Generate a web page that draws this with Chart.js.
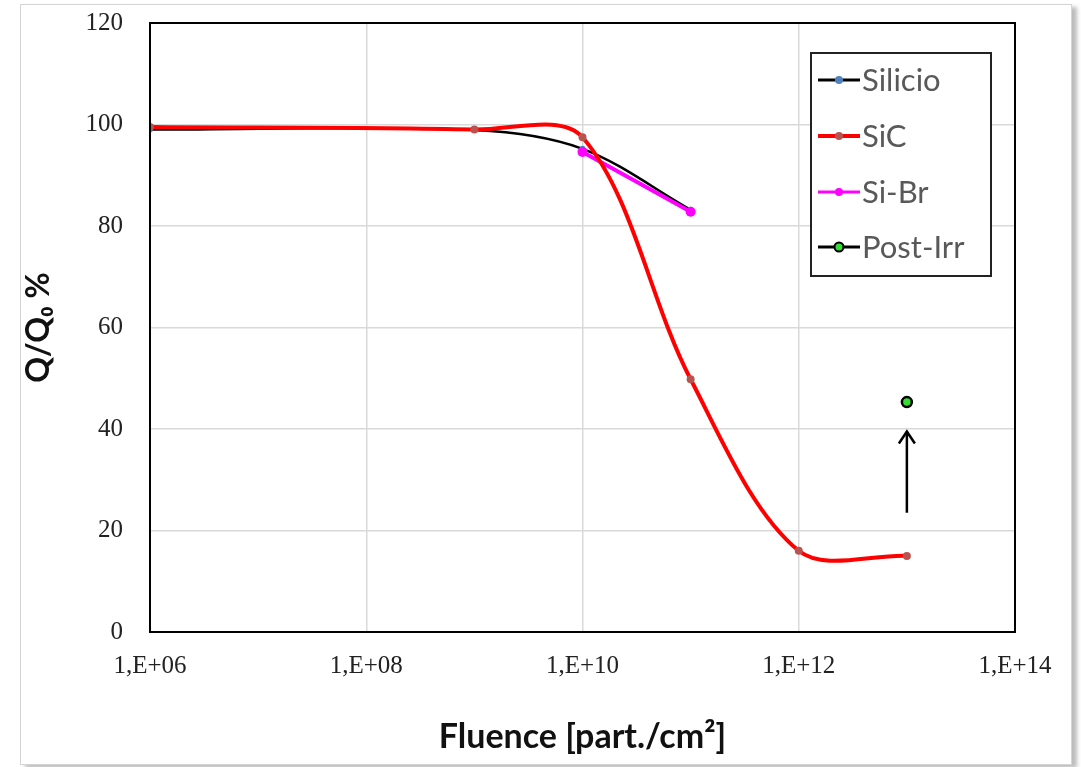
<!DOCTYPE html>
<html>
<head>
<meta charset="utf-8">
<script src="https://cdn.jsdelivr.net/npm/chart.js@4"></script>
<style>
  html, body { margin: 0; padding: 0; background: #fff; }
  #frame {
    position: absolute; left: 20px; top: 4px; width: 1050px; height: 759px;
    border: 1px solid #d4d4d4; box-shadow: 5px 3px 4px #bdbdbd; background: #fff;
  }
  #wrap { position: absolute; left: 0; top: 0; width: 1081px; height: 767px; }
</style>
</head>
<body>
<div id="frame"></div>
<div id="wrap"><canvas id="fluenceChart" width="1081" height="767"></canvas></div>
<script>
// values
const xTicks = [1e6, 1e8, 1e10, 1e12, 1e14];
const xTickLabels = ['1,E+06', '1,E+08', '1,E+10', '1,E+12', '1,E+14'];
const yTicks = [0, 20, 40, 60, 80, 100, 120];

const silicioX = [1e6, 1e9, 1e10, 1e11];
const silicioY = [99.0, 98.9, 95.2, 83.2];

const sicX = [1e6, 1e9, 1e10, 1e11, 1e12, 1e13];
const sicY = [99.5, 99.0, 97.5, 49.8, 16.0, 15.0];

const siBrX = [1e10, 1e11];
const siBrY = [94.6, 82.8];

const postIrrX = [1e13];
const postIrrY = [45.3];

// arrow pointing at the post-irradiation point
const arrowX = 1e13;
const arrowFromY = 23.5;
const arrowToY = 39.5;

function toPoints(xs, ys) {
    return xs.map((x, i) => ({ x: x, y: ys[i] }));
}

const datasets = [
    {
        label: 'Silicio',
        data: toPoints(silicioX, silicioY),
        showLine: true,
        borderColor: '#000000',
        backgroundColor: '#4f81bd',
        borderWidth: 2.5,
        pointRadius: 3,
        pointBorderWidth: 0,
        pointBackgroundColor: '#4f81bd',
        tension: 0.33,
        order: 3
    },
    {
        label: 'SiC',
        data: toPoints(sicX, sicY),
        showLine: true,
        borderColor: '#ff0000',
        backgroundColor: '#c0504d',
        borderWidth: 4,
        pointRadius: 4,
        pointBorderWidth: 0,
        pointBackgroundColor: '#b85450',
        tension: 0.33,
        order: 1
    },
    {
        label: 'Si-Br',
        data: toPoints(siBrX, siBrY),
        showLine: true,
        borderColor: '#ff00ff',
        backgroundColor: '#ff00ff',
        borderWidth: 4,
        pointRadius: 5,
        pointBorderWidth: 0,
        pointBackgroundColor: '#ff00ff',
        tension: 0.33,
        order: 2
    },
    {
        label: 'Post-Irr',
        data: toPoints(postIrrX, postIrrY),
        showLine: false,
        borderColor: '#000000',
        backgroundColor: '#33cc33',
        borderWidth: 2.5,
        pointRadius: 5,
        pointBorderWidth: 2.5,
        pointBorderColor: '#000000',
        pointBackgroundColor: '#33dd33',
        order: 0
    }
];

// black frame around the plot area, the arrow and the boxed legend
const decorations = {
    id: 'decorations',
    afterDatasetsDraw(chart) {
        const ctx = chart.ctx;
        const area = chart.chartArea;
        const xs = chart.scales.x;
        const ys = chart.scales.y;

        ctx.save();
        ctx.strokeStyle = '#000';
        ctx.lineWidth = 2;
        ctx.strokeRect(area.left, area.top, area.right - area.left, area.bottom - area.top);

        // arrow
        const ax = xs.getPixelForValue(arrowX);
        const y0 = ys.getPixelForValue(arrowFromY);
        const y1 = ys.getPixelForValue(arrowToY);
        ctx.lineWidth = 2.5;
        ctx.beginPath();
        ctx.moveTo(ax, y0);
        ctx.lineTo(ax, y1);
        ctx.stroke();
        ctx.beginPath();
        ctx.moveTo(ax - 8, y1 + 12);
        ctx.lineTo(ax, y1);
        ctx.lineTo(ax + 8, y1 + 12);
        ctx.stroke();

        // legend box
        const box = { left: 811, top: 53, width: 180, height: 223 };
        ctx.fillStyle = '#fff';
        ctx.fillRect(box.left, box.top, box.width, box.height);
        ctx.lineWidth = 2;
        ctx.strokeStyle = '#222';
        ctx.strokeRect(box.left, box.top, box.width, box.height);

        const rowY = [80, 136, 192, 247];
        ctx.font = '31px Lato, "Open Sans", sans-serif';
        ctx.textBaseline = 'middle';
        chart.data.datasets.forEach((ds, i) => {
            const y = rowY[i];
            ctx.strokeStyle = ds.borderColor;
            ctx.lineWidth = ds.label === 'SiC' ? 4 : 3;
            ctx.beginPath();
            ctx.moveTo(818, y);
            ctx.lineTo(860, y);
            ctx.stroke();
            ctx.beginPath();
            ctx.arc(839, y, ds.label === 'Post-Irr' ? 4.5 : 4, 0, Math.PI * 2);
            ctx.fillStyle = ds.pointBackgroundColor;
            ctx.fill();
            if (ds.label === 'Post-Irr') {
                ctx.lineWidth = 2;
                ctx.strokeStyle = '#000';
                ctx.stroke();
            }
            ctx.fillStyle = '#595959';
            ctx.fillText(ds.label, 862, y + 1);
        });
        ctx.restore();
    }
};

const ctx = document.getElementById('fluenceChart').getContext('2d');
new Chart(ctx, {
    type: 'scatter',
    data: { datasets: datasets },
    options: {
        responsive: false,
        animation: false,
        layout: { padding: { left: 0, top: 23, right: 66, bottom: 0 } },
        plugins: {
            legend: { display: false },
            tooltip: { enabled: false }
        },
        elements: { line: { cubicInterpolationMode: 'default' } },
        scales: {
            x: {
                type: 'logarithmic',
                min: 1e6,
                max: 1e14,
                afterBuildTicks: (scale) => {
                    scale.ticks = xTicks.map(v => ({ value: v }));
                },
                afterFit: (scale) => { scale.height = 767 - 632; },
                ticks: {
                    padding: 19,
                    maxRotation: 0,
                    autoSkip: false,
                    color: '#222',
                    font: { family: '"Liberation Serif", serif', size: 25 },
                    callback: (value) => xTickLabels[xTicks.indexOf(value)] || ''
                },
                grid: { color: '#d9d9d9', lineWidth: 1.5, drawTicks: false },
                border: { display: false },
                title: {
                    display: true,
                    text: 'Fluence [part./cm²]',
                    color: '#111',
                    font: { family: 'Lato, "Open Sans", sans-serif', size: 34, weight: 'bold' },
                    padding: { top: 0, bottom: 10 }
                }
            },
            y: {
                min: 0,
                max: 120,
                afterBuildTicks: (scale) => {
                    scale.ticks = yTicks.map(v => ({ value: v }));
                },
                afterFit: (scale) => {
                    scale.width = 150;
                    scale.paddingTop = 0;
                    scale.paddingBottom = 0;
                },
                ticks: {
                    padding: 27,
                    color: '#222',
                    font: { family: '"Liberation Serif", serif', size: 25 }
                },
                grid: { color: '#d9d9d9', lineWidth: 1.5, drawTicks: false },
                border: { display: false },
                title: {
                    display: true,
                    text: 'Q/Q₀ %',
                    color: '#111',
                    font: { family: 'Lato, "Open Sans", sans-serif', size: 32, weight: 'bold' },
                    padding: { top: 19, bottom: 0 }
                }
            }
        }
    },
    plugins: [decorations]
});
</script>
</body>
</html>
